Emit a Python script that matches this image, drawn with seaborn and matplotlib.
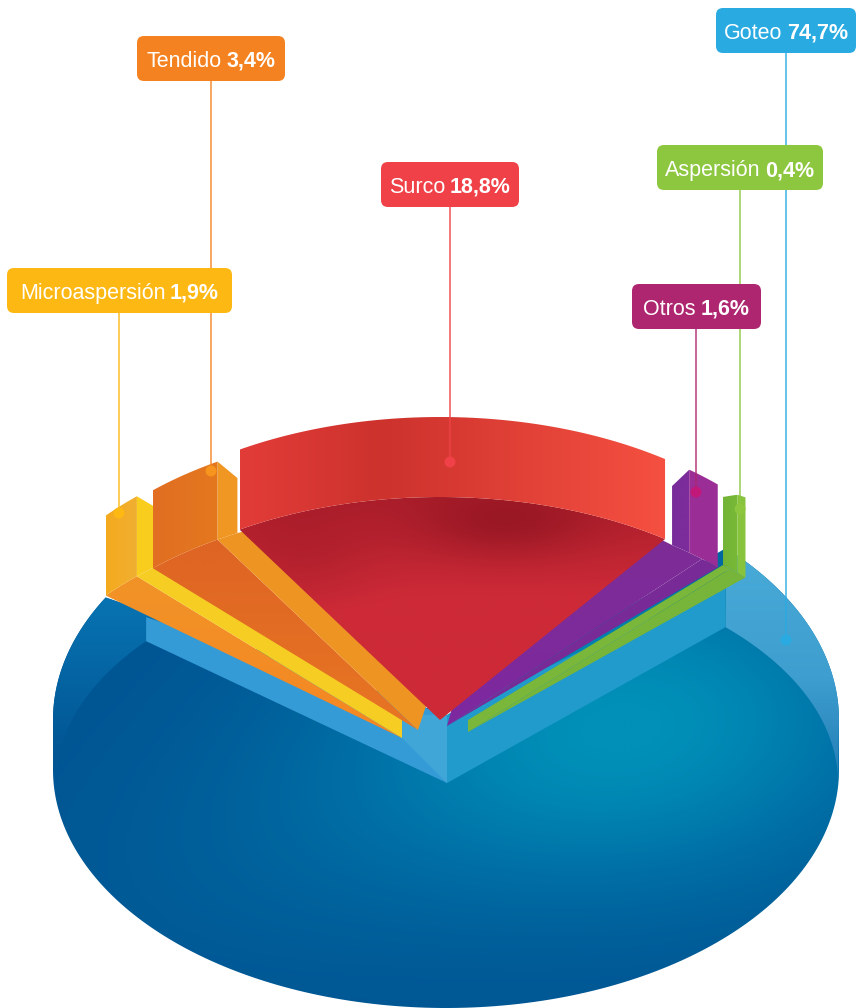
import numpy as np
import pandas as pd
import matplotlib
matplotlib.use("Agg")
import matplotlib.pyplot as plt
from matplotlib.patches import FancyBboxPatch, Polygon
import seaborn as sns

# ── data ─────────────────────────────────────────────────────────────────
names = ["Microaspersión", "Tendido", "Surco", "Otros", "Aspersión", "Goteo"]
values = [1.9, 3.4, 18.8, 1.6, 0.4, 74.7]
value_labels = ["1,9%", "3,4%", "18,8%", "1,6%", "0,4%", "74,7%"]
box_colors = ["#FDB813", "#F58220", "#EF4147", "#AE2570", "#8DC63F", "#29ABE2"]

# ── layout (pixels, y down) ──────────────────────────────────────────────
START_ANGLE = -50.3
RX, RY = 385, 223
slice_centers = {"Microaspersión": (402, 738), "Tendido": (418, 730), "Surco": (440, 720),
                 "Otros": (447, 726), "Aspersión": (468, 732)}
slice_tips = {"Microaspersión": (402, 720), "Tendido": (426, 706),
              "Otros": (452, 708), "Aspersión": (468, 720)}
rim_widths = {"Microaspersión": 3.6, "Tendido": 3.4, "Otros": 3.2, "Aspersión": 3.2}
box_rects = [(7, 268, 232, 313), (137, 36, 285, 81), (381, 162, 519, 207),
             (632, 284, 761, 329), (657, 145, 823, 190), (716, 8, 856, 53)]
leader_x = [119, 211, 450, 696, 740, 786]
leader_end = [513, 471, 462, 492, 509, 640]
dot_colors = ["#FDB813", "#F7941D", "#EF4147", "#C2187A", "#8DC63F", "#29ABE2"]

sns.set_theme(style="white")
plt.rcParams["font.family"] = ["Liberation Sans"]

fig = plt.figure(figsize=(8.56, 10.08), dpi=100)
ax = fig.add_axes([0, 0, 1, 1])


def rgb(*c):
    return tuple(v / 255 for v in c)


def arc(center, rx, ry, a, b, n=80, lift=(0, 0)):
    th = np.radians(np.linspace(a, b, n))
    up = np.linspace(lift[0], lift[1], n)
    return np.column_stack([center[0] + rx * np.sin(th), center[1] - ry * np.cos(th) - up])


def shade(pts, colors, func, z=1):
    # paint a gradient and clip it to a polygon
    pts = np.asarray(pts)
    x0, y0 = pts.min(axis=0)
    x1, y1 = pts.max(axis=0)
    xs, ys = np.meshgrid(np.linspace(x0, x1, 300), np.linspace(y0, y1, 300))
    cmap = sns.blend_palette(colors, as_cmap=True)
    im = ax.imshow(np.clip(func(xs, ys), 0, 1), cmap=cmap, vmin=0, vmax=1, extent=(x0, x1, y1, y0),
                   aspect="auto", zorder=z, interpolation="bilinear")
    clip = Polygon(pts, closed=True, transform=ax.transData)
    im.set_clip_path(clip)


def blob(xs, ys, cx, cy, sx, sy):
    return np.exp(-(((xs - cx) / sx) ** 2 + ((ys - cy) / sy) ** 2))


def across(x, y):
    return (x - x.min()) / (x.max() - x.min())


# angles follow the shares, clockwise from the top
sweeps = np.array(values) / np.sum(values) * 360
edges = START_ANGLE + np.concatenate([[0], np.cumsum(sweeps)])
angle = {n: (edges[i], edges[i + 1]) for i, n in enumerate(names)}

# ── Goteo: blue body ─────────────────────────────────────────────────────
top_c, top_rx, top_ry = (446, 720), 393, 245
low_c, low_ry = (446, 770), 238
floor_c, floor_rx, floor_ry = (447, 783), 391, 222
wall_apex = (447, 715)

g0 = angle["Goteo"][0] + 2.5
g1 = angle["Goteo"][1]
outline = np.vstack([
    arc(top_c, top_rx, top_ry, g0, 90),
    arc(low_c, top_rx, low_ry, 90, 270, 160),
    arc(top_c, top_rx, top_ry, 270, 300),
    [wall_apex],
])
shade(outline, [rgb(0, 84, 146), rgb(0, 112, 166), rgb(0, 144, 184)],
      lambda x, y: 0.95 * blob(x, y, 640, 715, 270, 170) + 0.2 * blob(x, y, 420, 800, 260, 120)
      + 0.1 * blob(x, y, 250, 900, 250, 120),
      z=1)

# raised rim on both sides
floor_r = arc(floor_c, floor_rx, floor_ry, g0, 90)
band_r = np.vstack([arc(top_c, top_rx, top_ry, g0, 90), floor_r[::-1]])
shade(band_r, [rgb(72, 170, 215), rgb(62, 158, 207), rgb(30, 120, 178)],
      lambda x, y: (y - 560) / 235, z=2)
floor_l = arc(floor_c, floor_rx, floor_ry, 270, g1)
band_l = np.vstack([arc(top_c, top_rx, top_ry, 270, 300), [wall_apex], floor_l[::-1]])
shade(band_l, [rgb(8, 115, 178), rgb(2, 86, 148)], lambda x, y: (y - 600) / 150, z=2)

# notch walls
p_r = floor_r[0]
p_l = floor_l[-1]
wall_r = [floor_c, p_r, (p_r[0], p_r[1] - 45), wall_apex]
wall_l = [floor_c, p_l, (p_l[0], p_l[1] - 24), wall_apex]
ax.add_patch(Polygon(wall_r, closed=True, fc=rgb(32, 155, 203), ec="none", zorder=3))
ax.add_patch(Polygon(wall_l, closed=True, fc=rgb(52, 155, 215), ec="none", zorder=3))
ax.add_patch(Polygon([floor_c, (floor_c[0], 715), (402, 715), (402, 738)], closed=True,
                     fc=rgb(64, 166, 216), ec="none", zorder=3))

# ── narrow slices ────────────────────────────────────────────────────────
slice_style = {
    "Microaspersión": dict(wall=[rgb(245, 170, 30), rgb(240, 175, 50)], floor=[rgb(240, 150, 40), rgb(245, 135, 35)],
                           rim=rgb(248, 205, 30), side=rgb(245, 205, 35), h=(80, 80, 60), ridge=0, left=True),
    "Tendido": dict(wall=[rgb(225, 110, 35), rgb(228, 120, 30)], floor=[rgb(222, 100, 35), rgb(232, 118, 35)],
                    rim=rgb(240, 150, 35), side=rgb(238, 148, 35), h=(78, 78, 55), ridge=0, left=True),
    "Otros": dict(wall=[rgb(120, 45, 155), rgb(125, 45, 155)], floor=[rgb(125, 45, 150), rgb(125, 40, 160)],
                  rim=rgb(155, 45, 150), side=rgb(120, 42, 150), h=(59, 83, 83), ridge=-2.5, left=False, tuck=(-14, -7)),
    "Aspersión": dict(wall=[rgb(115, 180, 55), rgb(120, 185, 55)], floor=[rgb(122, 183, 58), rgb(122, 183, 58)],
                      rim=rgb(135, 195, 60), side=rgb(118, 180, 58), h=(68, 78, 80), ridge=1.5, left=False, tuck=(0, 0)),
}
z = 4
for name in ["Microaspersión", "Tendido", "Otros", "Aspersión"]:
    s = slice_style[name]
    c = slice_centers[name]
    tip = slice_tips[name]
    a0, a1 = angle[name]
    a2 = a1 + rim_widths[name]
    ar = a1 + s["ridge"]
    h0, h1, h2 = s["h"]
    base = arc(c, RX, RY, a0, a1)
    rim_base = arc(c, RX, RY, a1, a2, 12)
    # floor and the strip along the radial edge, both end in a blunt tip
    # (the extra point tucks the edge under the neighbour so no gap shows)
    if s["left"]:
        floor = np.vstack([[c], base])
        strip = np.vstack([[c], rim_base, [rim_base[-1] + (12, -3)], [tip]])
    else:
        floor = np.vstack([[tip], [base[0] + s["tuck"]], base, [c]])
        strip = np.vstack([[c], rim_base])
    shade(floor, s["floor"], lambda x, y: (y - 540) / 190, z=z)
    ax.add_patch(Polygon(strip, closed=True, fc=s["side"], ec="none", zorder=z + 0.1))
    # outer wall
    wall_base = arc(c, RX, RY, a0, ar)
    wall_top = arc(c, RX, RY, a0, ar, lift=(h0, h1))
    shade(np.vstack([wall_base, wall_top[::-1]]), s["wall"], across, z=z + 0.2)
    rim_low = arc(c, RX, RY, ar, a2, 12)
    rim_top = arc(c, RX, RY, ar, a2, 12, lift=(h1, h2))
    ax.add_patch(Polygon(np.vstack([rim_low, rim_top[::-1]]), closed=True, fc=s["rim"], ec="none", zorder=z + 0.3))
    z += 1

# ── Surco ────────────────────────────────────────────────────────────────
c = slice_centers["Surco"]
a0, a1 = angle["Surco"]
base = arc(c, RX, RY, a0, a1)
floor = np.vstack([[c], base])
shade(floor, [rgb(150, 22, 35), rgb(178, 32, 45), rgb(205, 42, 55)],
      lambda x, y: 0.45 + (y - 500) / 170 - 0.5 * blob(x, y, 505, 525, 90, 35) - 0.25 * blob(x, y, 300, 560, 70, 60),
      z=9)
wall_top = arc(c, RX, RY, a0, a1, lift=(80, 80))
wall = np.vstack([base, wall_top[::-1]])
shade(wall, [rgb(226, 60, 56), rgb(205, 50, 45), rgb(225, 65, 55), rgb(245, 80, 65)], across, z=9.5)

# ── labels and leaders ───────────────────────────────────────────────────
leaders = pd.DataFrame({"x": leader_x, "y": leader_end, "name": names})
for x, y, col, rect in zip(leader_x, leader_end, box_colors, box_rects):
    ax.plot([x, x], [rect[3] - 2, y], color=col, lw=1.1, alpha=0.9, zorder=12, solid_capstyle="butt")
sns.scatterplot(data=leaders, x="x", y="y", hue="name", palette=dict(zip(names, dot_colors)),
                s=62, linewidth=0, legend=False, zorder=13, ax=ax)

renderer = fig.canvas.get_renderer()
FS = 15.5
GAP = 4.5
for name, val, col, rect in zip(names, value_labels, box_colors, box_rects):
    x0, y0, x1, y1 = rect
    ax.add_patch(FancyBboxPatch((x0, y0), x1 - x0, y1 - y0, boxstyle="round,pad=0,rounding_size=7",
                                fc=col, ec="none", zorder=14))
    cy = (y0 + y1) / 2 + 0.5
    t1 = ax.text(0, cy, name, color="white", fontsize=FS, va="center_baseline", ha="left", zorder=15)
    t2 = ax.text(0, cy, val, color="white", fontsize=FS, fontweight="bold", va="center_baseline", ha="left", zorder=15)
    w1 = t1.get_window_extent(renderer).width
    w2 = t2.get_window_extent(renderer).width
    left = (x0 + x1) / 2 - (w1 + w2 + GAP) / 2
    t1.set_x(left)
    t2.set_x(left + w1 + GAP)

ax.set_xlim(0, 856)
ax.set_ylim(1008, 0)
ax.axis("off")
fig.savefig("out.png", dpi=100, facecolor="white")
plt.close(fig)
